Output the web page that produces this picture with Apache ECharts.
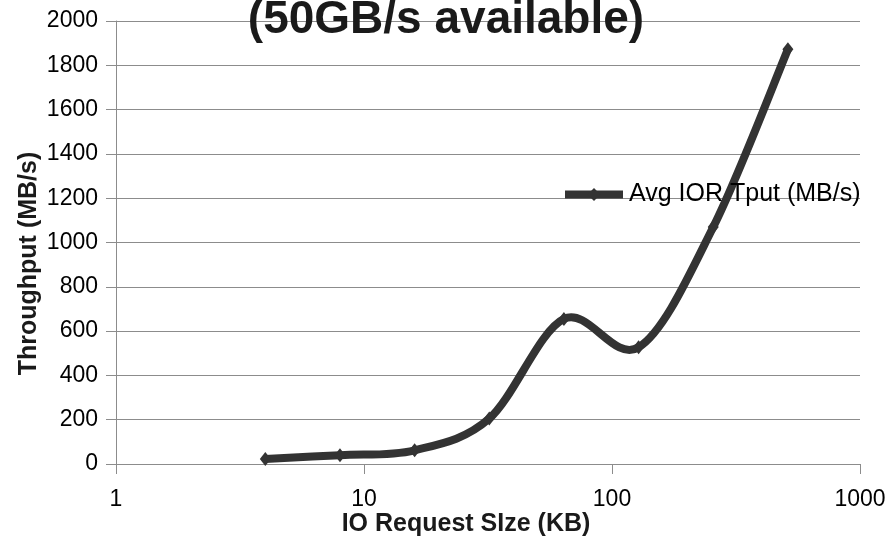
<!DOCTYPE html>
<html>
<head>
<meta charset="utf-8">
<script src="https://cdn.jsdelivr.net/npm/echarts@6/dist/echarts.min.js"></script>
<style>
html,body{margin:0;padding:0;background:#fff;}
#chart{width:892px;height:537px;}
</style>
</head>
<body>
<div id="chart"></div>
<script>
const ioSizesKB = [4, 8, 16, 32, 64, 128, 256, 512];
const avgTputMBs = [23, 40, 62, 205, 655, 527, 1070, 1872];
const seriesName = 'Avg IOR Tput (MB/s)';
const chartTitle = '(50GB/s available)';
const xTitle = 'IO Request SIze (KB)';
const yTitle = 'Throughput (MB/s)';

const FONT = '"Liberation Sans", Arial, sans-serif';
const GRID_COLOR = '#8c8c8c';
const LINE_COLOR = '#333333';

const points = ioSizesKB.map((x, i) => [x, avgTputMBs[i]]);

// Smooth curve (Catmull-Rom style, as in spreadsheet charts) drawn in pixel
// space from the library's own coordinate conversion of the data points.
function renderCurve(params, api) {
  if (params.dataIndexInside !== 0) return null;
  const p = points.map(d => api.coord(d));
  const n = p.length;
  const t = 1 / 6;
  let d = 'M' + p[0][0] + ' ' + p[0][1];
  for (let i = 0; i < n - 1; i++) {
    const p0 = p[Math.max(i - 1, 0)];
    const p1 = p[i];
    const p2 = p[i + 1];
    const p3 = p[Math.min(i + 2, n - 1)];
    const c1x = p1[0] + (p2[0] - p0[0]) * t;
    const c1y = p1[1] + (p2[1] - p0[1]) * t;
    const c2x = p2[0] - (p3[0] - p1[0]) * t;
    const c2y = p2[1] - (p3[1] - p1[1]) * t;
    d += ' C' + c1x + ' ' + c1y + ' ' + c2x + ' ' + c2y + ' ' + p2[0] + ' ' + p2[1];
  }
  return {
    type: 'path',
    shape: {pathData: d},
    style: {fill: null, stroke: LINE_COLOR, lineWidth: 8, lineJoin: 'round', lineCap: 'butt'},
    z2: 1
  };
}

const chart = echarts.init(document.getElementById('chart'), null, {renderer: 'canvas'});
chart.setOption({
  animation: false,
  backgroundColor: '#ffffff',
  title: {
    text: chartTitle,
    left: 'center',
    top: -3,
    padding: 0,
    textStyle: {fontFamily: FONT, fontSize: 46, fontWeight: 'bold', color: '#1a1a1a'}
  },
  legend: {
    left: 561,
    top: 182,
    padding: 0,
    itemWidth: 58,
    itemHeight: 16,
    lineStyle: {opacity: 1, width: 8, color: LINE_COLOR},
    textStyle: {fontFamily: FONT, fontSize: 25, color: '#000', padding: [0, 0, 0, 1]},
    data: [seriesName]
  },
  grid: {left: 116, right: 32, top: 21, bottom: 73, containLabel: false, outerBoundsMode: 'none'},
  xAxis: {
    type: 'log',
    logBase: 10,
    min: 1,
    max: 1000,
    name: xTitle,
    nameLocation: 'middle',
    nameGap: 48,
    nameMoveOverlap: false,
    nameTextStyle: {fontFamily: FONT, fontSize: 25, fontWeight: 'bold', color: '#1a1a1a', padding: [0, 44, 0, 0]},
    axisLine: {show: true, lineStyle: {color: GRID_COLOR, width: 1}},
    axisTick: {show: true, length: 10, lineStyle: {color: GRID_COLOR}},
    minorTick: {show: false},
    splitLine: {show: false},
    axisLabel: {fontFamily: FONT, fontSize: 23, color: '#000', margin: 24, formatter: v => String(Math.round(v))}
  },
  yAxis: {
    type: 'value',
    min: 0,
    max: 2000,
    interval: 200,
    name: yTitle,
    nameLocation: 'middle',
    nameGap: 74,
    nameMoveOverlap: false,
    nameTextStyle: {fontFamily: FONT, fontSize: 25, fontWeight: 'bold', color: '#1a1a1a', padding: [0, 42, 0, 0]},
    axisLine: {show: true, lineStyle: {color: GRID_COLOR, width: 1}},
    axisTick: {show: true, length: 10, lineStyle: {color: GRID_COLOR}},
    splitLine: {show: true, lineStyle: {color: GRID_COLOR, width: 1}},
    axisLabel: {fontFamily: FONT, fontSize: 23, color: '#000', margin: 18, formatter: v => String(v)}
  },
  series: [{
    name: seriesName,
    type: 'line',
    data: points,
    symbol: 'diamond',
    symbolSize: [11, 14],
    showSymbol: true,
    lineStyle: {color: LINE_COLOR, width: 8, opacity: 0},
    itemStyle: {color: LINE_COLOR, borderWidth: 0},
    emphasis: {disabled: true},
    z: 3
  }, {
    name: 'curve',
    type: 'custom',
    coordinateSystem: 'cartesian2d',
    data: points,
    renderItem: renderCurve,
    encode: {x: 0, y: 1},
    silent: true,
    z: 2
  }]
});
</script>
</body>
</html>
